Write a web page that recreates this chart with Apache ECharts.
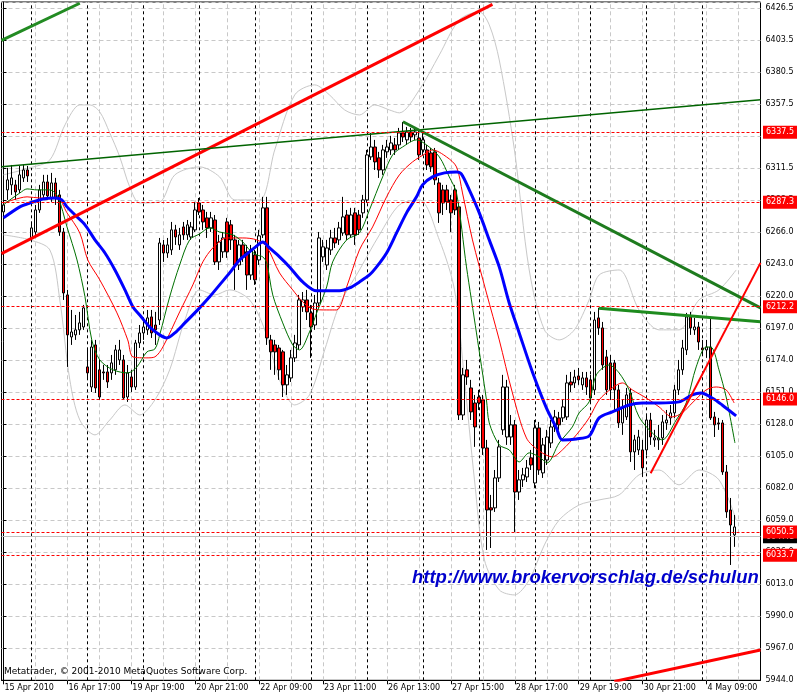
<!DOCTYPE html>
<html><head><meta charset="utf-8">
<script src="https://cdn.jsdelivr.net/npm/echarts@6/dist/echarts.min.js"></script>
<style>html,body{margin:0;padding:0;background:#fff}#c{width:800px;height:700px}</style>
</head><body><div id="c"></div>
<script>
// ---- DATA ----
// H1 bars, 15 Apr 2010 15:00 .. 4 May 2010 16:00 : [open, close, low, high]
const ohlc = [
[6280.3,6285.3,6276.0,6292.5],[6296.1,6303.3,6288.9,6311.9],[6299.7,6304.7,6292.5,6314.0],[6299.7,6294.6,6288.9,6303.3],
[6296.1,6306.9,6293.9,6313.3],[6304.7,6310.4,6301.8,6314.0],[6310.4,6306.1,6301.8,6313.3],
[6261.6,6268.8,6258.7,6273.1],[6265.9,6281.7,6263.8,6285.3],[6281.7,6296.1,6279.6,6299.7],[6292.5,6301.8,6288.9,6306.9],
[6301.8,6291.8,6288.9,6306.9],[6290.3,6301.1,6287.5,6308.3],[6301.1,6290.3,6285.3,6304.7],[6292.5,6265.9,6263.1,6296.1],
[6265.9,6222.1,6217.1,6268.8],[6220.7,6192.0,6169.0,6224.3],[6190.5,6194.1,6184.8,6209.9],[6192.0,6195.6,6188.4,6206.3],
[6195.6,6200.6,6192.0,6208.5],[6197.7,6211.4,6195.6,6213.5],
[6169.0,6164.7,6159.7,6181.2],[6154.6,6183.3,6151.0,6188.4],[6184.8,6153.9,6150.3,6188.4],[6166.9,6147.4,6145.3,6174.0],
[6165.4,6164.7,6159.7,6170.4],[6165.4,6158.2,6153.9,6170.4],[6164.7,6171.9,6159.7,6177.6],[6166.9,6181.2,6163.3,6184.8],
[6174.0,6181.2,6170.4,6188.4],[6174.0,6146.7,6145.3,6177.6],[6147.4,6164.7,6143.9,6170.4],[6161.8,6154.6,6151.0,6166.9],
[6154.6,6186.2,6152.5,6188.4],[6186.2,6193.4,6182.6,6199.1],
[6193.4,6197.7,6188.4,6202.7],[6195.6,6204.2,6192.0,6209.9],[6204.9,6193.4,6189.8,6209.9],[6199.1,6195.6,6184.8,6208.5],
[6202.7,6258.0,6199.1,6261.6],[6256.6,6250.8,6244.4,6260.2],[6250.8,6256.6,6247.3,6261.6],[6253.0,6267.4,6249.4,6273.1],
[6267.4,6262.3,6256.6,6271.0],[6256.6,6263.8,6253.0,6268.8],[6269.5,6263.8,6260.2,6273.1],[6263.8,6271.0,6260.2,6274.5],
[6262.3,6269.5,6260.2,6273.1],[6267.4,6281.7,6265.9,6287.5],
[6286.7,6280.3,6278.1,6290.3],[6281.7,6273.1,6267.4,6285.3],[6276.0,6268.8,6261.6,6280.3],[6268.8,6276.0,6265.9,6280.3],
[6274.5,6244.4,6242.2,6278.1],[6244.4,6258.7,6238.6,6263.8],[6251.6,6261.6,6247.3,6265.9],[6273.1,6251.6,6247.3,6276.0],
[6271.0,6260.2,6253.0,6274.5],[6260.2,6242.2,6224.3,6263.8],[6242.2,6256.6,6238.6,6260.2],[6256.6,6248.0,6244.4,6260.2],
[6251.6,6235.0,6224.3,6256.6],[6235.0,6253.0,6231.5,6256.6],
[6249.4,6231.5,6227.9,6253.0],[6245.8,6263.1,6242.2,6267.4],[6263.8,6283.2,6261.6,6291.1],[6283.2,6189.8,6184.8,6291.1],
[6188.4,6179.8,6166.9,6192.0],[6184.8,6179.8,6163.3,6188.4],[6182.6,6166.9,6159.7,6184.8],[6179.8,6156.1,6147.4,6181.2],
[6156.1,6163.3,6148.9,6170.4],[6161.1,6175.5,6158.2,6181.2],[6175.5,6186.2,6172.6,6192.0],[6184.8,6217.1,6181.2,6220.7],
[6212.1,6217.1,6208.5,6222.8],[6217.1,6208.5,6202.7,6224.3],
[6207.8,6197.7,6175.5,6213.5],[6199.1,6214.9,6195.6,6220.7],[6214.9,6261.6,6211.4,6265.9],[6248.0,6255.2,6244.4,6260.2],
[6242.2,6254.4,6238.6,6260.2],[6253.0,6261.6,6249.4,6267.4],[6261.6,6258.0,6254.4,6268.8],[6260.2,6268.8,6256.6,6273.1],
[6265.2,6276.7,6263.1,6291.1],[6278.1,6263.8,6260.2,6281.7],[6263.8,6278.1,6261.6,6283.2],[6279.6,6263.8,6256.6,6283.2],
[6278.1,6267.4,6263.8,6281.7],[6279.6,6288.9,6276.0,6292.5],
[6288.9,6321.2,6286.7,6324.8],[6319.8,6326.9,6317.6,6337.0],[6326.9,6316.2,6310.4,6332.0],[6319.1,6310.4,6304.7,6323.4],
[6310.4,6324.8,6306.9,6328.4],[6323.4,6326.9,6319.1,6332.0],[6324.8,6329.8,6321.2,6334.9],[6328.4,6324.8,6321.2,6333.4],
[6328.4,6337.0,6324.8,6340.6],[6337.0,6334.1,6330.5,6344.9],[6332.0,6337.7,6328.4,6341.3],[6337.7,6334.1,6330.5,6340.6],
[6335.6,6337.7,6332.0,6340.6],[6333.4,6321.2,6317.6,6339.2],
[6324.8,6332.0,6321.2,6337.7],[6324.8,6314.0,6310.4,6328.4],[6322.6,6312.6,6309.0,6326.2],[6323.4,6303.3,6299.7,6326.2],
[6301.1,6279.6,6272.4,6304.7],[6296.1,6286.7,6278.1,6299.7],[6296.1,6287.5,6281.7,6299.7],[6288.9,6279.6,6265.9,6292.5],
[6296.1,6281.7,6278.1,6299.7],[6283.9,6134.5,6130.9,6286.7],[6134.5,6163.3,6130.9,6168.3],[6166.9,6161.8,6156.1,6174.0],
[6153.9,6136.7,6130.9,6159.7],[6143.1,6125.9,6111.6,6148.9],
[6147.4,6143.1,6138.1,6152.5],[6145.3,6110.8,6105.8,6148.9],[6110.8,6066.3,6037.6,6116.6],[6067.8,6066.3,6039.0,6077.1],
[6067.8,6089.3,6064.9,6095.0],[6089.3,6111.6,6086.4,6116.6],[6123.8,6154.6,6120.2,6163.3],[6118.7,6154.6,6113.0,6159.7],
[6118.7,6127.4,6113.0,6134.5],[6127.4,6079.2,6050.5,6130.9],[6079.2,6087.9,6073.5,6095.0],[6087.9,6091.5,6082.8,6096.5],
[6090.0,6096.5,6086.4,6102.2],[6103.7,6098.6,6095.0,6109.4],
[6085.7,6125.2,6082.1,6130.9],[6125.2,6095.0,6091.5,6129.5],[6092.9,6113.0,6089.3,6118.0],[6102.2,6118.7,6098.6,6123.8],
[6114.4,6125.9,6110.8,6130.9],[6125.9,6133.1,6122.3,6138.1],[6132.4,6127.4,6123.8,6136.7],[6132.4,6140.3,6129.5,6145.3],
[6133.1,6157.5,6130.9,6163.3],[6158.2,6156.1,6151.0,6165.4],[6157.5,6161.8,6153.9,6166.9],[6162.5,6159.7,6156.1,6168.3],
[6156.1,6161.1,6152.5,6165.4],[6161.1,6154.6,6148.9,6165.4],
[6159.7,6146.7,6143.9,6163.3],[6152.5,6202.7,6148.9,6208.5],[6204.2,6197.0,6192.0,6211.4],[6197.0,6170.4,6166.9,6201.3],
[6176.2,6152.5,6148.9,6181.2],[6171.9,6152.5,6145.3,6177.6],[6171.9,6152.5,6138.1,6174.0],[6152.5,6128.8,6125.2,6156.1],
[6128.8,6139.6,6120.2,6145.3],[6133.1,6148.9,6130.9,6153.9],[6150.3,6108.0,6100.8,6153.9],[6108.0,6116.6,6095.0,6120.2],
[6109.4,6118.7,6105.8,6123.8],[6109.4,6096.5,6090.0,6116.6],
[6109.4,6130.9,6105.8,6134.5],[6130.9,6118.7,6113.0,6136.0],[6116.6,6118.0,6111.6,6123.8],[6116.6,6118.0,6109.4,6127.4],
[6118.0,6129.5,6113.0,6134.5],[6128.8,6130.9,6123.8,6138.1],[6132.4,6136.0,6127.4,6141.7],[6136.0,6152.5,6132.4,6156.1],
[6152.5,6166.9,6148.9,6174.0],[6166.9,6182.6,6163.3,6188.4],[6181.2,6204.9,6177.6,6207.8],[6204.9,6197.0,6192.0,6208.5],
[6195.6,6197.7,6192.0,6204.2],[6197.7,6186.9,6181.2,6201.3],
[6182.6,6181.2,6177.6,6188.4],[6181.2,6183.3,6175.5,6188.4],[6183.3,6132.4,6130.9,6204.9],[6133.1,6127.4,6118.7,6136.7],
[6128.8,6128.1,6123.8,6132.4],[6128.8,6093.6,6091.5,6130.9],[6093.6,6064.9,6060.6,6098.6],[6066.3,6055.5,6026.8,6074.9],
[6048.4,6054.1,6039.8,6062.7]
];
const slotCount = 190;                       // bar slots on the time axis (incl. right shift)
const timeLabels = ['15 Apr 2010','16 Apr 17:00','19 Apr 19:00','20 Apr 21:00','22 Apr 09:00','23 Apr 11:00',
  '26 Apr 13:00','27 Apr 15:00','28 Apr 17:00','29 Apr 19:00','30 Apr 21:00','4 May 09:00'];
const dayStarts = [7,21,35,49,63,77,91,105,119,133,147,161,175];
const priceTickLabels = ['5944.0','5967.0','5990.0','6013.0','6036.0','6059.0','6082.0','6105.0','6128.0','6151.0','6174.0',
  '6197.0','6220.0','6243.0','6266.0','6288.5','6311.5','6334.5','6357.5','6380.5','6403.5','6426.5'];
const levels = [6337.5, 6287.3, 6212.2, 6146.0, 6050.5, 6033.7];
const bidPrice = 6047.1;
// indicators, read at key bars: [barIndex, price]
const maFast = [[0,6285.3],[1.6,6288.9],[4.1,6293.9],[5.9,6296.8],[8.4,6296.1],[11.6,6296.1],[13.6,6291.1],[15.9,6269.5],
 [18.4,6245.8],[20.4,6219.3],[22.1,6188.4],[24.1,6174.0],[27.4,6166.9],[31.1,6164.7],[33.4,6169.0],[35.9,6179.8],[37.9,6181.9],
 [39.1,6192.0],[41.6,6219.3],[44.1,6242.2],[46.6,6260.2],[49.1,6264.5],[51.6,6268.8],[54.1,6265.9],[57.4,6263.8],[59.9,6258.7],
 [61.6,6253.0],[63.4,6249.4],[64.9,6248.0],[65.9,6243.7],[67.4,6220.7],[69.9,6200.6],[72.4,6184.8],[74.1,6181.2],[76.6,6194.1],
 [78.4,6207.8],[80.9,6226.4],[82.4,6244.4],[85.9,6260.2],[89.1,6265.2],[91.6,6281.7],[94.9,6305.4],[97.4,6321.2],[99.9,6326.9],
 [103.4,6332.0],[105.9,6328.4],[109.1,6319.8],[111.6,6305.4],[113.4,6293.9],[115.9,6240.8],[118.4,6193.4],[120.9,6145.3],
 [121.6,6128.8],[124.1,6113.0],[126.6,6109.4],[129.1,6100.8],[131.6,6107.3],[134.1,6104.4],[136.1,6100.1],[139.1,6114.4],
 [142.4,6125.9],[144.1,6136.0],[146.6,6143.9],[148.4,6163.3],[151.6,6170.4],[154.1,6164.7],[156.6,6152.5],[159.1,6133.1],
 [162.4,6121.6],[164.9,6116.6],[168.4,6130.9],[170.9,6143.1],[173.4,6169.0],[175.9,6183.3],[177.4,6182.6],[179.1,6166.9],
 [180.9,6147.4],[183.1,6114.4]];
const maMid = [[0,6286.7],[2.4,6288.9],[5.9,6291.1],[9.1,6290.3],[13.4,6290.3],[15.9,6279.6],[19.1,6265.2],[21.1,6245.8],
 [24.1,6231.5],[28.4,6207.8],[31.1,6188.4],[32.4,6176.2],[35.9,6175.5],[37.9,6176.2],[39.9,6183.3],[44.1,6208.5],[47.4,6227.9],
 [49.9,6244.4],[52.4,6254.4],[55.9,6261.6],[59.9,6261.6],[63.4,6260.2],[65.9,6255.2],[69.1,6236.5],[72.4,6224.3],[74.9,6215.7],
 [77.4,6210.6],[80.9,6209.9],[83.4,6209.9],[85.9,6226.4],[89.1,6253.0],[92.4,6269.5],[95.9,6291.1],[99.1,6306.9],[102.4,6316.2],
 [105.9,6322.6],[107.4,6324.8],[110.9,6319.8],[113.4,6312.6],[114.9,6293.9],[117.4,6260.2],[120.9,6222.1],[124.1,6188.4],
 [127.4,6150.3],[130.9,6118.0],[134.1,6108.7],[137.4,6104.4],[139.9,6109.4],[143.4,6120.2],[146.6,6132.4],[149.1,6145.3],
 [152.4,6153.9],[154.9,6157.5],[157.4,6152.5],[160.9,6146.7],[164.1,6140.3],[167.4,6133.1],[169.9,6136.0],[172.4,6143.1],
 [175.9,6152.5],[178.4,6154.6],[180.9,6152.5],[182.9,6143.1]];
const maSlow = [[0,6276.0],[4.1,6283.9],[6.6,6286.7],[9.9,6289.6],[12.9,6290.3],[14.6,6288.9],[15.9,6283.9],[17.9,6278.1],
 [20.4,6271.0],[22.9,6260.2],[25.4,6250.8],[27.9,6238.6],[30.4,6224.3],[32.4,6212.1],[34.1,6206.3],[36.6,6197.7],[39.1,6192.0],
 [40.9,6189.8],[42.9,6193.4],[45.4,6200.6],[49.1,6211.4],[51.6,6219.3],[54.1,6227.9],[56.6,6236.5],[59.1,6245.8],[61.6,6251.6],
 [63.1,6255.2],[64.9,6258.7],[66.6,6254.4],[69.1,6248.0],[71.6,6240.8],[74.9,6230.0],[78.4,6223.6],[81.6,6223.6],[84.1,6223.6],
 [86.6,6225.7],[89.1,6230.0],[91.6,6235.0],[93.4,6240.8],[95.9,6250.8],[98.4,6265.2],[100.9,6279.6],[103.4,6291.1],[104.9,6299.7],
 [107.4,6305.4],[110.4,6308.3],[113.4,6309.0],[114.6,6307.6],[116.6,6296.1],[119.1,6279.6],[121.6,6260.2],[124.1,6240.8],
 [126.6,6214.9],[129.1,6193.4],[132.4,6165.4],[135.9,6139.6],[138.4,6125.2],[139.9,6116.6],[143.4,6117.3],[146.6,6119.4],
 [149.1,6132.4],[152.4,6136.7],[156.6,6141.7],[159.9,6143.1],[164.1,6143.1],[169.1,6143.9],[172.4,6148.9],[174.6,6150.3],
 [177.4,6146.7],[179.9,6141.7],[183.4,6133.8]];
const bandUpper = [[0,6306.9],[6.6,6311.9],[11.6,6317.6],[15.4,6342.8],[19.1,6357.1],[21.6,6357.1],[24.1,6352.1],[26.6,6337.0],
 [29.1,6319.8],[31.6,6298.2],[34.1,6286.7],[39.1,6287.5],[42.9,6306.9],[49.1,6312.6],[54.1,6305.4],[57.9,6288.9],[64.1,6288.9],
 [67.9,6324.8],[72.9,6364.3],[77.9,6371.5],[81.6,6364.3],[85.4,6353.5],[89.1,6349.9],[92.9,6357.1],[96.6,6353.5],[99.1,6351.4],
 [104.1,6367.9],[109.1,6393.0],[114.1,6418.1],[119.1,6423.9],[121.6,6414.6],[124.1,6389.4],[127.9,6324.8],[131.6,6238.6],
 [135.4,6195.6],[139.1,6188.4],[142.9,6195.6],[146.6,6217.1],[149.1,6235.0],[154.1,6238.6],[159.1,6209.9],[164.1,6195.6],
 [169.1,6195.6],[174.1,6217.1],[179.1,6224.3],[183.4,6238.6]];
const bandLower = [[0,6263.8],[6.6,6260.2],[11.6,6253.0],[14.1,6217.1],[16.6,6159.7],[19.1,6130.9],[22.9,6120.2],[26.6,6130.9],
 [30.4,6141.7],[34.1,6134.5],[37.9,6145.3],[41.6,6166.9],[45.4,6202.7],[49.1,6224.3],[52.9,6220.7],[56.6,6224.3],[61.6,6217.1],
 [65.4,6195.6],[69.1,6159.7],[72.9,6141.7],[76.6,6148.9],[80.4,6181.2],[84.1,6213.5],[89.1,6238.6],[94.1,6263.8],[99.1,6285.3],
 [104.1,6288.9],[109.1,6260.2],[112.9,6224.3],[115.4,6159.7],[117.9,6087.9],[120.4,6030.4],[124.1,6008.9],[127.9,6005.3],
 [131.6,6016.1],[135.4,6041.2],[139.1,6059.1],[144.1,6069.9],[149.1,6073.5],[154.1,6077.1],[159.1,6091.5],[164.1,6095.0],
 [169.1,6084.3],[174.1,6095.0],[179.1,6087.9],[183.4,6059.1]];
// drawn trend lines: [barIndex, price] end points
const tlGreenTop   = [[-0.5,6403.4],[19.1,6430.1]];
const tlRedMain    = [[-0.5,6250.3],[122.4,6429.3]];
const tlGreenLong  = [[-0.5,6312.7],[189.5,6360.9]];
const tlGreenDown  = [[100,6345.0],[189.5,6211.4]];
const tlGreenFlat  = [[149,6211.1],[189.5,6201.4]];
const tlRedUp      = [[162,6092.7],[189.5,6243.7]];
const tlRedLow     = [[152.9,5943.2],[189.5,5965.8]];

// ---- CHART ----
const FONT = '"DejaVu Sans"';
const FS = 8;
const cats = Array.from({length: slotCount}, (_, i) => String(i));
const tickMin = 5944, tickStep = 22.976;
const labelShown = i => i % 16 === 0 && i / 16 < timeLabels.length;
const gridCols = [];
for (let i = 8; i < slotCount; i += 8) gridCols.push(i);

function lineSeries(data, color, width, z, smooth) {
  return {type:'line', xAxisIndex:1, yAxisIndex:0, data, symbol:'none', silent:true, z,
    smooth: smooth || false, lineStyle:{color, width}, clip:true, animation:false};
}

const chart = echarts.init(document.getElementById('c'), null, {renderer:'canvas'});
chart.setOption({
  animation:false,
  backgroundColor:'#fff',
  grid:{left:1.5, right:39.5, top:2, bottom:19.7, show:true, borderColor:'#000', borderWidth:1, backgroundColor:'#fff'},
  xAxis:[
    {type:'category', data:cats, boundaryGap:true, gridIndex:0, position:'bottom',
     axisLine:{show:true, lineStyle:{color:'#000', width:1}},
     axisTick:{show:true, alignWithLabel:true, interval:(i)=>labelShown(i), length:4, lineStyle:{color:'#000'}},
     axisLabel:{show:true, interval:(i)=>labelShown(i), formatter:(v,i)=>timeLabels[i/16] || '', align:'left',
       padding:[0,0,0,1], margin:4, color:'#000', fontSize:FS, fontFamily:FONT},
     splitLine:{show:false}},
    {type:'value', min:-0.5, max:slotCount-0.5, gridIndex:0, show:false}
  ],
  yAxis:{type:'value', position:'right', min:tickMin, max:6431.0, interval:tickStep,
    axisLine:{show:true, lineStyle:{color:'#000', width:1}},
    axisTick:{show:true, length:3, lineStyle:{color:'#000'}},
    axisLabel:{margin:5, color:'#000', fontSize:FS, fontFamily:FONT, showMaxLabel:false,
      formatter:(v)=>{const k=Math.round((v-tickMin)/tickStep); return Math.abs(v-(tickMin+k*tickStep))<0.01 && priceTickLabels[k] ? priceTickLabels[k] : '';}},
    splitLine:{show:true, lineStyle:{color:'#C8C8C8', type:[4,3], width:1}}},
  graphic:[
    {type:'text', left:4, top:667, z:50, silent:true,
     style:{text:'Metatrader, © 2001-2010 MetaQuotes Software Corp.', font:'9px '+FONT, fill:'#000'}},
    {type:'text', left:412, top:568, z:50, silent:true,
     style:{text:'http://www.brokervorschlag.de/schulung', font:'italic bold 18.5px "Liberation Sans"', fill:'#0000CC',
       width:348, overflow:'truncate', ellipsis:''}}
  ],
  series:[
    {type:'line', xAxisIndex:1, yAxisIndex:0, data:[], silent:true, z:1,
     markLine:{symbol:'none', silent:true, animation:false, z:1, label:{show:false},
       data:[...gridCols.map(i=>({xAxis:i, lineStyle:{color:'#C8C8C8', type:[4,3], width:1}})),
             ...dayStarts.map(i=>({xAxis:i, lineStyle:{color:'#000', type:[3,3], width:1}}))]}},
    lineSeries(bandUpper, '#C8C8C8', 1, 2, 0.3),
    lineSeries(bandLower, '#C8C8C8', 1, 2, 0.3),
    {type:'candlestick', xAxisIndex:0, yAxisIndex:0, data:ohlc, barWidth:3, silent:true, z:3,
     itemStyle:{color:'#fff', color0:'#FF0000', borderColor:'#000', borderColor0:'#000', borderWidth:1},
     markLine:{symbol:'none', silent:true, animation:false, z:6, precision:1,
       lineStyle:{color:'#FF0000', type:[3,2], width:1},
       label:{show:true, position:'end', distance:2.5, formatter:(p)=>Number(p.value).toFixed(1), backgroundColor:'#FF0000',
         color:'#fff', fontSize:FS, fontFamily:FONT, padding:[2,3,1,3], lineHeight:10},
       data:[{yAxis:bidPrice, lineStyle:{color:'#C0C0C0', type:'solid', width:1}, label:{backgroundColor:'#000'}},
             ...levels.map(v=>({yAxis:v}))]}},
    lineSeries(maMid, '#FF0000', 1, 4, 0.3),
    lineSeries(maFast, '#007000', 1, 4, 0.3),
    lineSeries(maSlow, '#0000FF', 3, 4, 0.3),
    lineSeries(tlGreenTop, '#228B22', 3, 5),
    lineSeries(tlRedMain, '#FF0000', 3, 5),
    lineSeries(tlGreenLong, '#006400', 1.5, 5),
    lineSeries(tlGreenDown, '#1E7B1E', 3, 5),
    lineSeries(tlGreenFlat, '#1E8B1E', 3, 5),
    lineSeries(tlRedUp, '#FF0000', 2, 5),
    lineSeries(tlRedLow, '#FF0000', 3, 5)
  ]
});
</script>
</body></html>
